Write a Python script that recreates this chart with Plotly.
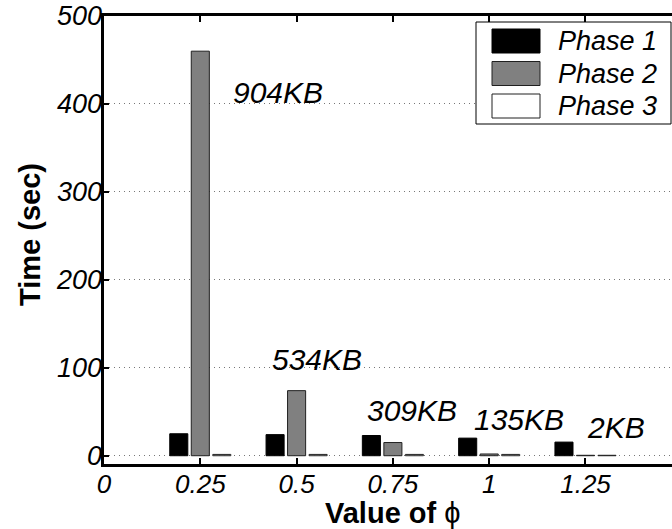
import plotly.graph_objects as go

# ---- data ----
phi = [0.25, 0.5, 0.75, 1.0, 1.25]
phase1 = [25, 24, 23, 20, 15.5]
phase2 = [460, 74, 15, 2, 0.5]
phase3 = [1.5, 1.5, 1.5, 1.5, 0.5]
series_names = ["Phase 1", "Phase 2", "Phase 3"]
size_labels = ["904KB", "534KB", "309KB", "135KB", "2KB"]
x_tickvals = [0, 0.25, 0.5, 0.75, 1, 1.25]
x_ticktext = ["0", "0.25", "0.5", "0.75", "1", "1.25"]
y_tickvals = [0, 100, 200, 300, 400, 500]

# ---- style ----
FONT = "Liberation Sans, Arial, Helvetica, sans-serif"
W, H = 672, 529
L, R, T, B = 104, 672, 16, 464
fills = ["#000000", "#808080", "#ffffff"]
lines = ["#000000", "#202020", "#202020"]
XRANGE = [0, 1.4746]
YRANGE = [-9.4, 500]

def px_x(p):
    return (p - L) / (R - L)

def px_y(p):
    return (B - p) / (B - T)

fig = go.Figure()
for name, vals, fc, lc in zip(series_names, [phase1, phase2, phase3], fills, lines):
    fig.add_trace(go.Bar(x=phi, y=vals, name=name, marker=dict(color=fc, line=dict(color=lc, width=1)),
                         showlegend=False))
# invisible helper trace so the label-only axes are drawn
fig.add_trace(go.Scatter(x=[phi[0]], y=[phase1[0]], xaxis="x2", yaxis="y2", mode="markers",
                         marker=dict(opacity=0), showlegend=False, hoverinfo="skip"))

# KB labels (text positions in data coords)
label_pos = [(0.4525, 413), (0.552, 109), (0.80, 52), (1.078, 41), (1.329, 32)]
annotations = []
for txt, (ax_, ay_) in zip(size_labels, label_pos):
    annotations.append(dict(x=ax_, y=ay_, xref="x", yref="y", text=txt, showarrow=False,
                            font=dict(family=FONT, size=30, color="black", style="italic"),
                            xanchor="center", yanchor="middle"))

# axis titles
annotations.append(dict(x=px_x(30), y=px_y(235), xref="paper", yref="paper", text="<b>Time (sec)</b>",
                        textangle=-90, showarrow=False, font=dict(family=FONT, size=29, color="black"),
                        xanchor="center", yanchor="middle"))
annotations.append(dict(x=0.75, y=px_y(513), xref="x", yref="paper", text="<b>Value of</b> ϕ",
                        showarrow=False, font=dict(family=FONT, size=29, color="black"),
                        xanchor="center", yanchor="middle"))

# custom legend
shapes = [dict(type="rect", xref="paper", yref="paper", x0=px_x(476), x1=px_x(671), y0=px_y(124), y1=px_y(22),
               line=dict(color="black", width=1), fillcolor="white", layer="above")]
row_y = [41, 73.5, 106]
for name, fc, lc, ry in zip(series_names, fills, lines, row_y):
    shapes.append(dict(type="rect", xref="paper", yref="paper", x0=px_x(492), x1=px_x(540),
                       y0=px_y(ry + 12), y1=px_y(ry - 12), fillcolor=fc, line=dict(color=lc, width=1),
                       layer="above"))
    annotations.append(dict(x=px_x(556), y=px_y(ry), xref="paper", yref="paper", text=name, showarrow=False,
                            font=dict(family=FONT, size=27, color="black", style="italic"),
                            xanchor="left", yanchor="middle"))

tickfont = dict(family=FONT, size=26, color="black", style="italic")
fig.update_layout(
    width=W, height=H,
    margin=dict(l=L, r=W - R, t=T, b=H - B, pad=0),
    plot_bgcolor="white", paper_bgcolor="white",
    barmode="group", bargap=0.33, bargroupgap=0.16,
    showlegend=False,
    annotations=annotations, shapes=shapes,
    font=dict(family=FONT, color="black"),
    xaxis=dict(range=XRANGE, tickvals=x_tickvals, ticktext=x_ticktext, showticklabels=False,
               ticks="inside", ticklen=6, tickwidth=2, tickcolor="black",
               showline=True, linewidth=2.5, linecolor="black", mirror="ticks",
               showgrid=False, zeroline=False),
    yaxis=dict(range=YRANGE, tickvals=y_tickvals, showticklabels=False,
               ticks="inside", ticklen=5, tickwidth=2, tickcolor="black",
               showline=True, linewidth=2.5, linecolor="black",
               showgrid=True, gridcolor="#777777", gridwidth=1, griddash="1px,4px", zeroline=False),
    # label-only axes
    xaxis2=dict(range=XRANGE, tickvals=x_tickvals, ticktext=x_ticktext, overlaying="x",
                anchor="free", position=0, side="bottom", ticks="", showline=False,
                showgrid=False, zeroline=False, tickfont=tickfont, ticklabelstandoff=2),
    yaxis2=dict(range=YRANGE, tickvals=y_tickvals, overlaying="y", anchor="free",
                position=0, side="left", ticks="", showline=False,
                showgrid=False, zeroline=False, tickfont=dict(tickfont, size=27), ticklabelstandoff=2),
)

fig.write_html("out.html")
